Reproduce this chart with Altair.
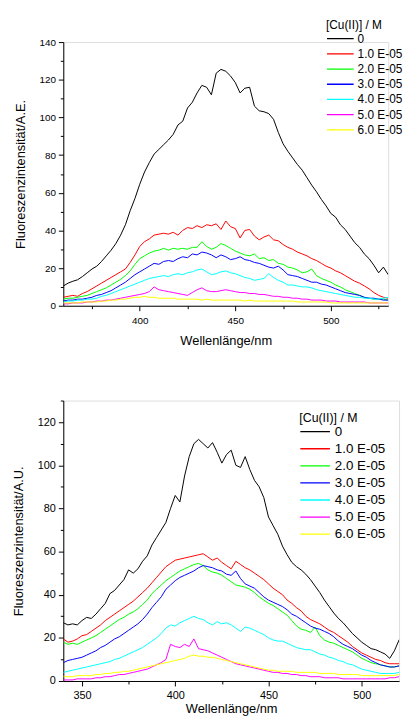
import altair as alt
import numpy as np
import pandas as pd

# ---------------- data ----------------
LABELS = ["0", "1.0 E-05", "2.0 E-05", "3.0 E-05", "4.0 E-05", "5.0 E-05", "6.0 E-05"]
COLORS = ["#000000", "#ff0000", "#00ff00", "#0000ff", "#00ffff", "#ff00ff", "#ffff00"]

# top panel: 360 ... 530 nm, step 2.5
TOP_WL = [360 + 2.5 * i for i in range(69)]
TOP_0 = [10.5, 12, 13, 13.8, 15.5, 17.5, 19.5, 21, 23.5, 26.5,
         29.5, 33, 37.5, 43, 50.5, 57, 64.5, 71, 76, 80.5,
         83, 85.5, 88, 91, 96, 98, 105, 108, 113, 117,
         116, 112, 123.5, 125.5, 124.5, 122, 118.5, 113, 115.5, 116,
         106, 103.5, 103, 102, 99, 92, 86, 82, 78.5, 75,
         72, 68, 64, 60.5, 56.5, 53, 49, 47, 43, 40.5,
         37, 33.5, 31, 27.5, 25, 21.5, 17.5, 20.5, 16.5]
TOP_1 = [4.5, 5, 5.5, 5, 6.5, 7.5, 9, 10.5, 12, 13.5,
         15, 16.5, 18, 19.5, 23, 27, 31.5, 34, 35.5, 37.5,
         38, 38.5, 38, 39, 37.5, 40, 41.5, 41, 42.5, 41.5,
         43, 42.5, 43.5, 40.5, 45, 42, 41, 36, 40, 40.5,
         37, 35, 36.5, 37.5, 35, 34.5, 32.5, 31, 30, 28.5,
         27.5, 26.5, 25, 24, 22.5, 21, 20, 18.5, 17.5, 16,
         14.5, 13, 12, 10.5, 9, 7, 5.5, 4.5, 4]
TOP_2 = [3.5, 4, 4, 4.5, 5, 5.5, 6.5, 7.5, 8.5, 9.5,
         11, 12.5, 14, 16, 18.5, 22, 25, 26.5, 28, 29,
         29.5, 30.5, 29.5, 30.5, 30, 30.5, 30, 31, 31, 34,
         31.5, 30, 31, 33, 32, 30.5, 29, 28, 27, 26.5,
         27.5, 25, 25.5, 24, 24.5, 22.5, 22, 20.5, 20, 19,
         17.5, 18, 19.5, 16, 14.5, 13.5, 12.5, 11, 10, 8.5,
         7.5, 6.5, 5.5, 4.5, 4, 3.5, 3.5, 3.5, 3]
TOP_3 = [2.5, 3, 3, 3.5, 3.5, 4, 4.5, 5.5, 6, 7,
         8, 9.5, 11, 12.5, 14.5, 16.5, 18, 19.5, 21, 22.5,
         22, 23.5, 24, 23.5, 25, 26, 25.5, 27.5, 27, 28.5,
         28, 27, 25.5, 27, 26, 24.5, 25, 26, 24.5, 24,
         23, 22.5, 21.5, 20.5, 20, 21, 19, 16.5, 16, 15.5,
         14.5, 13.5, 12.5, 12.5, 11.5, 11, 10, 9, 8, 7,
         6.5, 6, 5.5, 4.5, 4, 4, 3.5, 3, 3]
TOP_4 = [2, 2.5, 2.5, 3, 3, 3.5, 3.5, 4, 5, 5.5,
         6.5, 7.5, 8.5, 9.5, 10.5, 11.5, 12.5, 13.5, 14.5, 15,
         15.5, 16, 15.5, 16.5, 17, 16.5, 17.5, 18, 19, 19.5,
         18, 16.5, 17, 18, 18.5, 17.5, 17, 16, 15, 14.5,
         13.5, 14, 14.5, 17, 15, 13.5, 12.5, 11, 11, 10.5,
         10, 10, 9.5, 8.5, 8, 7.5, 7, 6.5, 6, 5.5,
         5, 4.5, 4.5, 4, 4, 3.5, 3.5, 4, 4.5]
TOP_5 = [1, 1, 1.5, 1.5, 1.5, 2, 2, 2.5, 2.5, 3,
         3, 3.5, 4, 4.5, 5, 5.5, 6, 6.5, 7.5, 10,
         8.5, 8, 7.5, 7, 6.5, 6, 5.5, 7, 8.5, 9.5,
         8, 7.5, 7.5, 8, 8.5, 8, 7.5, 7, 7, 6.5,
         6.5, 6, 6, 5.5, 5, 5, 4.5, 4.5, 4, 4,
         3.5, 3.5, 3, 3, 3, 2.5, 2.5, 2.5, 2, 2,
         2, 2, 2, 2, 1.5, 1.5, 1.5, 1.5, 1.5]
TOP_6 = [1.5, 1.5, 1.5, 1.5, 2, 2, 2, 2, 2.5, 2.5,
         3, 3, 3.5, 3.5, 4, 4.5, 4.5, 5, 4.5, 4.5,
         4, 4, 4, 4, 3.5, 3.5, 3.5, 3.5, 3.5, 3,
         3.5, 3, 3, 3, 3, 3, 3, 3, 2.5, 3,
         2.5, 2.5, 2.5, 2.5, 2.5, 2.5, 2.5, 2.5, 2.5, 2,
         2, 2, 2, 2, 2, 2, 1.5, 1.5, 1.5, 1.5,
         1.5, 1.5, 1.5, 1.5, 1.5, 1.5, 1.5, 1.5, 1.5]

# bottom panel: 340 ... 525 nm, step 2.5
BOT_WL = [340 + 2.5 * i for i in range(75)]
BOT_0 = [27, 26, 26.5, 26, 28, 29.5, 29, 31, 33.5, 36,
         40.5, 42, 44.5, 47, 51.5, 50, 52, 55.5, 58, 63,
         66.5, 70, 73.5, 80, 86, 83, 95, 104, 110, 112,
         110, 108, 110.5, 106, 101, 105, 107, 100, 99, 104,
         98, 93, 90, 85, 76, 72, 68, 62.5, 58.5, 55,
         53, 51.5, 49.5, 47, 44, 41, 37.5, 34.5, 31.5, 29,
         27, 24.5, 22, 20, 18, 16.5, 15, 14.5, 13.5, 12.5,
         10.5, 14, 19, 22, 23.5]
BOT_1 = [19.5, 18, 18.5, 19.5, 21, 21.5, 23, 24.5, 26, 28,
         29.5, 31, 32.5, 34, 35.5, 37, 39, 41, 43, 45.5,
         48, 50.5, 53, 54.5, 56, 56.5, 57, 57.5, 58, 58.5,
         59, 57.5, 56, 57, 55, 53.5, 52, 55.5, 54, 52.5,
         51.5, 50, 48.5, 47, 45, 43, 41.5, 40, 37.5, 36,
         34, 32.5, 30, 28.5, 27.5, 26.5, 25, 23.5, 22.5, 21,
         19.5, 18, 16, 14.5, 13, 12, 11, 10, 9.5, 8.5,
         8, 8, 8, 8.5, 9]
BOT_2 = [18, 17, 17.5, 17, 18, 19, 20, 21, 22.5, 24,
         25.5, 27, 28.5, 29.5, 31, 32, 33.5, 35.5, 37.5, 40.5,
         42.5, 44.5, 46.5, 48, 49.5, 51, 52, 53, 54, 54.5,
         53.5, 51.5, 50.5, 50, 49, 47.5, 46, 44.5, 44, 43.5,
         42.5, 41, 39, 37.5, 36, 35, 33.5, 32, 30.5, 28,
         25.5, 24, 23.5, 22.5, 25, 21, 19, 18, 17.5, 16.5,
         15.5, 14.5, 13.5, 12, 10.5, 9.5, 8.5, 8, 7.5, 7,
         6.5, 6.5, 7, 7.5, 8]
BOT_3 = [8.5, 9.5, 10, 10.5, 11, 12, 13, 14, 15.5, 16.5,
         18, 19.5, 20.5, 22, 23.5, 25, 26.5, 28.5, 31, 34,
         36.5, 39, 42.5, 44.5, 46.5, 48, 49, 50, 51, 52.5,
         53.5, 53, 52.5, 51.5, 51, 49.5, 49, 51, 47.5, 45,
         44, 43, 41, 39, 37.5, 36.5, 35.5, 34.5, 33, 31,
         30, 28.5, 27, 25.5, 24.5, 24, 23, 22, 20.5, 18.5,
         17, 16, 15, 13.5, 12, 11, 9.5, 8.5, 7.5, 7,
         6.5, 6.5, 7, 8, 9]
BOT_4 = [4, 4.5, 5, 5.5, 6, 6.5, 7, 7.5, 8, 8.5,
         9, 10, 10.5, 11.5, 12.5, 13.5, 14.5, 15.5, 17, 18.5,
         20, 22, 24.5, 26, 25.5, 27, 28, 29, 30, 29,
         28.5, 27, 26, 27.5, 26.5, 27, 26, 24.5, 23, 25,
         24.5, 23.5, 22.5, 21.5, 20, 19, 18.5, 18.5, 17.5, 16.5,
         15.5, 15, 14.5, 14.5, 13.5, 12.5, 12, 11, 10.5, 9.5,
         9, 8, 7.5, 6.5, 5.5, 5, 4.5, 4, 3.5, 3.5,
         3.5, 3.5, 4, 5, 6]
BOT_5 = [0.5, 0.5, 0.5, 1, 1, 1, 1, 1.5, 1.5, 2,
         2, 2.5, 3, 3, 3.5, 4, 4.5, 5, 5.5, 6.5,
         7.5, 8.5, 10, 17, 16, 15.5, 17, 16, 19.5, 15,
         14.5, 14, 13, 12, 11, 10, 9, 8, 7.5, 7,
         6.5, 6, 5.5, 5, 4.5, 4, 4, 3.5, 3.5, 3,
         3, 2.5, 2.5, 2, 2, 2, 1.5, 1.5, 1.5, 1.5,
         1, 1, 1, 1, 1, 1, 1, 1, 1, 1,
         1.5, 1.5, 2, 3, 4.5]
BOT_6 = [2, 2, 2, 2.5, 2.5, 2.5, 2.5, 3, 3, 3.5,
         3.5, 4, 4, 4.5, 4.5, 5, 5.5, 6, 6.5, 7,
         7.5, 8, 8.5, 9, 9.5, 10, 10.5, 11.5, 12, 11.5,
         11.5, 11, 11, 10.5, 10, 9.5, 9, 8.5, 8, 7.5,
         7, 6.5, 6, 5.5, 5, 5, 4.5, 4.5, 4.5, 4.5,
         4, 4, 4, 4, 4, 3.5, 3.5, 3.5, 3.5, 3,
         3, 3, 3, 3, 2.5, 2.5, 2.5, 2.5, 2.5, 2.5,
         2.5, 2.5, 3, 3.5, 4.5]

TOP_SERIES = [TOP_0, TOP_1, TOP_2, TOP_3, TOP_4, TOP_5, TOP_6]
BOT_SERIES = [BOT_0, BOT_1, BOT_2, BOT_3, BOT_4, BOT_5, BOT_6]


def long_table(wl, series):
    rows = []
    for k, (lab, vals) in enumerate(zip(LABELS, series)):
        n = min(len(wl), len(vals))
        for w, v in zip(wl[:n], vals[:n]):
            rows.append({"wl": w, "val": v, "conc": lab, "k": k})
    return pd.DataFrame(rows)


FONT = "Liberation Sans"


def panel(df, xdom, ydom, xvals, yvals, xmajor, ymajor, w, h, ytitle,
          lx, ly, lab_fs, title_fs, sym_size, row_pad, lab_off, tick_fs,
          label_pad_x, title_pad_x, leg_title_pad):
    common = dict(
        grid=False, titleFontWeight="normal", titleFont=FONT, titleFontSize=13,
        labelFont=FONT, labelFontSize=tick_fs, labelColor="black", titleColor="black",
        domainColor="black", tickColor="black", format="d",
    )
    x = alt.X(
        "wl:Q",
        scale=alt.Scale(domain=xdom, nice=False, zero=False),
        axis=alt.Axis(
            values=xvals, title="Wellenlänge/nm",
            labelExpr=f"datum.value % {xmajor} === 0 ? datum.label : ''",
            tickSize={"condition": {"test": f"datum.value % {xmajor} !== 0", "value": 3}, "value": 5},
            labelFlush=False, labelPadding=label_pad_x, titlePadding=title_pad_x, **common,
        ),
    )
    y = alt.Y(
        "val:Q",
        scale=alt.Scale(domain=ydom, nice=False, zero=True),
        axis=alt.Axis(
            values=yvals, title=ytitle,
            labelExpr=f"datum.value % {ymajor} === 0 ? datum.label : ''",
            tickSize={"condition": {"test": f"datum.value % {ymajor} !== 0", "value": 3}, "value": 5},
            labelPadding=3, titlePadding=12, **common,
        ),
    )
    color = alt.Color(
        "conc:N",
        scale=alt.Scale(domain=LABELS, range=COLORS),
        sort=LABELS,
        legend=alt.Legend(
            orient="none", legendX=lx, legendY=ly, title="[Cu(II)] / M",
            titleFontWeight="normal", titleFontSize=title_fs, titleFont=FONT,
            titleColor="black", labelFont=FONT, labelFontSize=lab_fs,
            labelColor="black", symbolType="stroke", symbolSize=sym_size,
            symbolStrokeWidth=1.3, clipHeight=13, rowPadding=row_pad,
            labelOffset=lab_off, titlePadding=leg_title_pad, padding=0,
        ),
    )
    return (
        alt.Chart(df)
        .mark_line(strokeWidth=1, clip=True)
        .encode(x=x, y=y, color=color, order=alt.Order("wl:Q"), detail="k:O")
        .properties(width=w, height=h)
    )


top = panel(
    long_table(TOP_WL, TOP_SERIES), [360, 530], [0, 140],
    list(range(375, 531, 25)), list(range(0, 141, 10)), 50, 20,
    329, 267, "Fluoreszenzintensität/A.E.",
    266, -22, 12, 12, 729, 2.4, 3, 10, 5, 9, 0,
)
bottom = panel(
    long_table(BOT_WL, BOT_SERIES), [340, 520], [0, 130],
    list(range(350, 501, 25)), list(range(0, 131, 10)), 50, 20,
    340, 284, "Fluoreszenzintensität/A.U.",
    239, 11.5, 13.5, 12.5, 900, 3.3, 4, 11, 4, 2, 1,
)

chart = (
    alt.vconcat(top, bottom, spacing=52)
    .resolve_scale(x="independent", y="independent", color="independent")
    .properties(padding={"left": 4, "top": 7, "right": 0, "bottom": 0})
    .configure_view(stroke=None)
    .configure_axis(domainWidth=1, tickWidth=1)
    .configure(background="white")
)

chart.save("out.html", embed_options={"renderer": "svg", "actions": False})
